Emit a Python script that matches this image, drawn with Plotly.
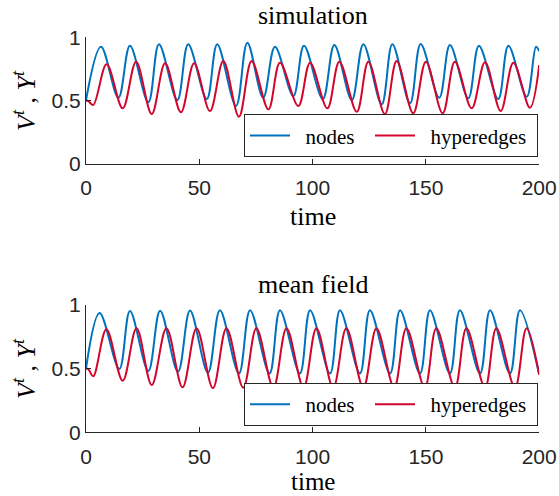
import plotly.graph_objects as go

# ---------------- data ----------------
# simulation: nodes (V^t)
sim_node_t = [0, 6.6, 14.3, 19.4, 27.5, 32.2, 40.3, 45.1, 53.3, 57.9, 66.2, 71.2, 78.2,
              83.4, 91.5, 96.2, 104.5, 109.6, 117.3, 122.4, 130.5, 135.2, 143.0, 147.7,
              155.9, 160.6, 168.7, 173.4, 181.9, 186.4, 194.5, 198.6, 200]
sim_node_v = [0.50, 0.925, 0.521, 0.933, 0.485, 0.945, 0.503, 0.945, 0.511, 0.945, 0.456,
              0.957, 0.521, 0.925, 0.535, 0.933, 0.511, 0.939, 0.503, 0.945, 0.469, 0.945,
              0.477, 0.947, 0.521, 0.939, 0.517, 0.933, 0.511, 0.933, 0.529, 0.925, 0.89]
# simulation: hyperedges (Y^t)
sim_edge_t = [0, 1.0, 3.2, 9.1, 16.2, 22.1, 29.0, 34.9, 41.9, 47.7, 54.7, 60.6, 67.5, 73.1,
              80.5, 85.6, 93.7, 98.9, 106.5, 111.8, 119.5, 124.6, 131.9, 137.1, 144.4,
              150.0, 157.4, 162.8, 170.2, 176.1, 183.0, 188.6, 195.9, 200]
sim_edge_v = [0.50, 0.495, 0.464, 0.786, 0.437, 0.807, 0.392, 0.794, 0.406, 0.794, 0.416,
              0.812, 0.371, 0.812, 0.429, 0.799, 0.456, 0.799, 0.437, 0.807, 0.410, 0.807,
              0.392, 0.812, 0.398, 0.807, 0.398, 0.807, 0.437, 0.802, 0.416, 0.799, 0.442, 0.78]

# mean field: nodes
mf_node_t = [0, 6.0, 14.7, 19.4, 27.5, 32.7, 40.6, 45.9, 53.8, 59.1, 67.5, 72.4, 81.0, 85.6,
             94.4, 98.9, 107.7, 112.1, 120.9, 125.3, 134.2, 138.6, 147.4, 151.8, 160.6,
             165.0, 173.9, 178.3, 187.1, 191.5, 200]
mf_node_v = [0.50, 0.936, 0.496, 0.951, 0.481, 0.954, 0.475, 0.955, 0.468, 0.957, 0.462,
             0.958, 0.462, 0.958, 0.462, 0.958, 0.462, 0.958, 0.462, 0.958, 0.462, 0.958,
             0.462, 0.958, 0.462, 0.958, 0.462, 0.958, 0.462, 0.958, 0.455]
# mean field: hyperedges
mf_edge_t = [0, 1.0, 3.2, 9.0, 16.2, 22.3, 29.0, 35.5, 42.6, 48.8, 56.0, 62.0, 69.4, 75.2,
             82.7, 88.5, 96.0, 101.7, 109.1, 114.9, 122.4, 128.2, 136.0, 141.4, 149.5,
             154.6, 162.8, 167.9, 176.1, 181.1, 189.3, 194.4, 200]
mf_edge_v = [0.50, 0.495, 0.440, 0.808, 0.405, 0.816, 0.371, 0.816, 0.353, 0.816, 0.347,
             0.816, 0.350, 0.816, 0.350, 0.816, 0.350, 0.816, 0.350, 0.816, 0.350, 0.816,
             0.350, 0.816, 0.350, 0.816, 0.350, 0.816, 0.350, 0.816, 0.350, 0.816, 0.45]

x_ticks = [0, 50, 100, 150, 200]
x_tick_text = ["0", "50", "100", "150", "200"]
y_ticks = [0, 0.5, 1]
y_tick_text = ["0", "0.5", "1"]

# ---------------- styling ----------------
W, H = 559, 496
BLUE = "#0072BD"
RED = "#D2062C"
AX = "#262626"
SERIF = "Liberation Serif, Times New Roman, serif"
SANS = "Liberation Sans, Arial, sans-serif"
NB = "\u00a0"


def px(x):
    return x / W


def py(y):
    return 1 - y / H


fig = go.Figure()
line_kw = dict(width=2, shape="spline", smoothing=1.0)
name_nodes = NB * 2 + "nodes" + NB * 2
name_edges = NB * 2 + "hyperedges" + NB

fig.add_trace(go.Scatter(x=sim_node_t, y=sim_node_v, mode="lines", name=name_nodes,
                         line=dict(color=BLUE, **line_kw), xaxis="x", yaxis="y", legend="legend"))
fig.add_trace(go.Scatter(x=sim_edge_t, y=sim_edge_v, mode="lines", name=name_edges,
                         line=dict(color=RED, **line_kw), xaxis="x", yaxis="y", legend="legend"))
fig.add_trace(go.Scatter(x=mf_node_t, y=mf_node_v, mode="lines", name=name_nodes,
                         line=dict(color=BLUE, **line_kw), xaxis="x2", yaxis="y2", legend="legend2"))
fig.add_trace(go.Scatter(x=mf_edge_t, y=mf_edge_v, mode="lines", name=name_edges,
                         line=dict(color=RED, **line_kw), xaxis="x2", yaxis="y2", legend="legend2"))

x_dom = [px(86), px(539.2)]
top_dom = [py(163.5), py(37.3)]
bot_dom = [py(432.3), py(304.8)]

axis_common = dict(showline=True, linecolor=AX, linewidth=1, ticks="inside", ticklen=5,
                   tickcolor=AX, tickwidth=1, showgrid=False, zeroline=False, mirror=False,
                   automargin=False, tickfont=dict(family=SANS, size=21, color=AX))
xaxis_extra = dict(ticklabelstandoff=5)

leg_common = dict(orientation="h", x=px(244), xanchor="left",
                  bgcolor="white", bordercolor=AX, borderwidth=1, itemwidth=40,
                  tracegroupgap=0, font=dict(family=SERIF, size=21, color="black"))

fig.update_layout(
    width=W, height=H,
    margin=dict(l=0, r=0, t=0, b=0, autoexpand=False),
    paper_bgcolor="white", plot_bgcolor="white",
    xaxis=dict(domain=x_dom, anchor="y", range=[0, 200], tickvals=x_ticks,
               ticktext=x_tick_text, **axis_common, **xaxis_extra),
    yaxis=dict(domain=top_dom, anchor="x", range=[0, 1], tickvals=y_ticks,
               ticktext=y_tick_text, **axis_common),
    xaxis2=dict(domain=x_dom, anchor="y2", range=[0, 200], tickvals=x_ticks,
                ticktext=x_tick_text, **axis_common, **xaxis_extra),
    yaxis2=dict(domain=bot_dom, anchor="x2", range=[0, 1], tickvals=y_ticks,
                ticktext=y_tick_text, **axis_common),
    legend=dict(y=py(157.3), yanchor="bottom", **leg_common),
    legend2=dict(y=py(426), yanchor="bottom", **leg_common),
    showlegend=True,
)

ann = []
def txt(x, y, s, size, angle=0):
    ann.append(dict(x=px(x), y=py(y), xref="paper", yref="paper", text=s, showarrow=False,
                    xanchor="center", yanchor="middle", textangle=angle,
                    font=dict(family=SERIF, size=size, color="black")))

ylab = "<i>V</i><sup><i>t</i></sup> , <i>Y</i><sup><i>t</i></sup>"
txt(313, 16, "simulation", 26)
txt(313, 216, "time", 26)
txt(24, 100, ylab, 26, -90)
txt(313, 284, "mean field", 26)
txt(313, 481, "time", 25)
txt(24, 368, ylab, 26, -90)
fig.update_layout(annotations=ann)

fig.write_html("out.html", config={"displayModeBar": False},
               post_script="document.body.style.margin='0px';")
